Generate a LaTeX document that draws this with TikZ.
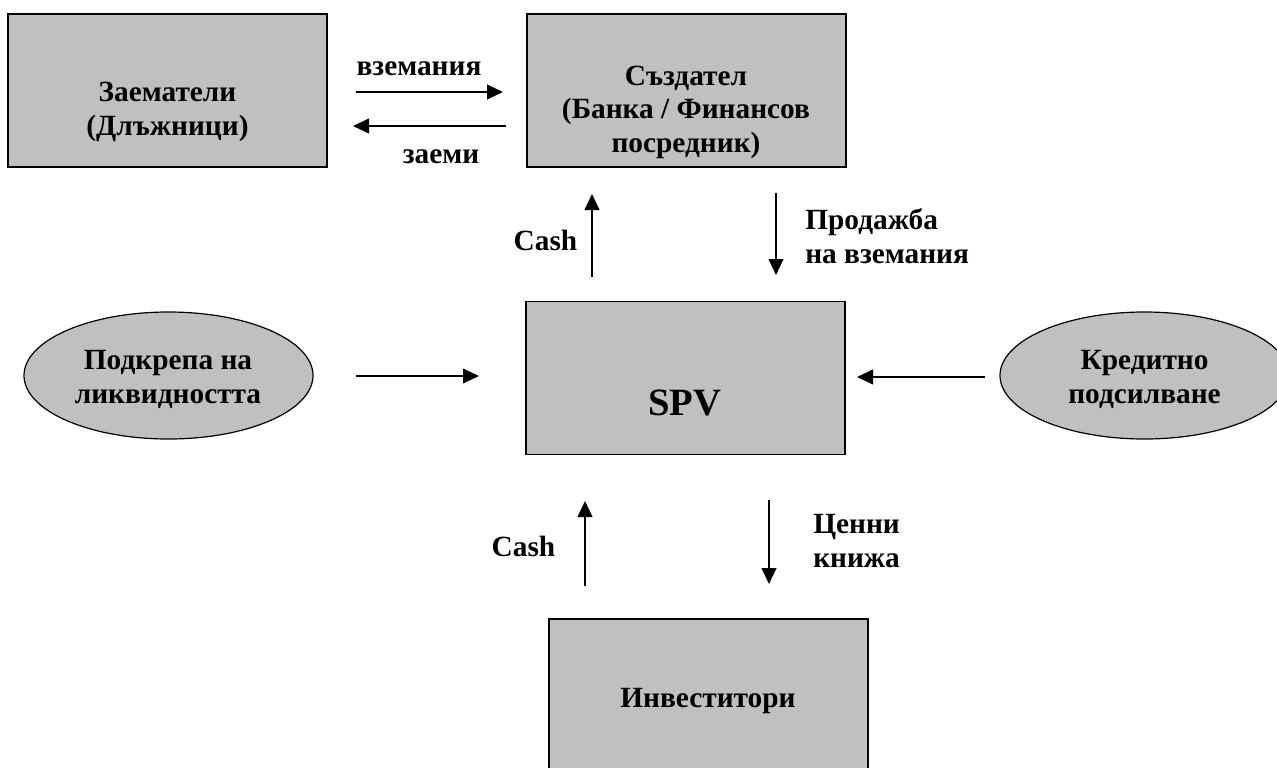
\documentclass[tikz,border=0pt]{standalone}
\usepackage{fontspec}
\setmainfont{Liberation Serif}
\usetikzlibrary{shapes.geometric,arrows.meta}
\definecolor{boxgray}{RGB}{192,192,192}
\tikzset{
  box/.style={draw, line width=1.2pt, fill=boxgray, minimum width=239pt, minimum height=114.75pt, inner sep=0pt},
  oval/.style={ellipse, draw, line width=0.9pt, fill=boxgray, minimum width=216.75pt, minimum height=95.25pt, inner sep=0pt},
  txt/.style={font=\fontsize{22}{25.1}\selectfont\bfseries, align=center, inner sep=0pt, anchor=base},
  flow/.style={line width=1.5pt, -{Triangle[length=12pt,width=11pt]}}
}
\begin{document}
\begin{tikzpicture}[x=0.75pt, y=-0.75pt]
  \path[use as bounding box, fill=white] (0,0) rectangle (1277,767);
  \node[box] (zaem) at (167.5,90.5) {};
  \node[box] (sazd) at (686.5,90.5) {};
  \node[box] (spv) at (685.5,378) {};
  \node[box, minimum height=117pt] (inv) at (708.5,697) {};
  \node[oval] (liq) at (168.5,375.5) {};
  \node[oval] (cred) at (1144.5,375.5) {};

  \node[txt] (zaemT) at (167.5,135) {Заематели\\(Длъжници)};
  \node[txt] (sazdT) at (686,152) {Създател\\(Банка / Финансов\\посредник)};
  \node[txt, font=\fontsize{29}{34}\selectfont\bfseries] (spvT) at (685,415) {SPV};
  \node[txt] (invT) at (708,707) {Инвеститори};
  \node[txt] (liqT) at (168,403) {Подкрепа на\\ликвидността};
  \node[txt] (credT) at (1144.5,403) {Кредитно\\подсилване};

  \node[txt] (vzT) at (419,75) {вземания};
  \node[txt] (zmT) at (441,163) {заеми};
  \node[txt] (cashA) at (545.5,250) {Cash};
  \node[txt, align=left, anchor=base west] (prodT) at (805,263) {Продажба\\на вземания};
  \node[txt] (cashB) at (523.5,556) {Cash};
  \node[txt, align=left, anchor=base west] (cenT) at (813,567) {Ценни\\книжа};

  \coordinate (vz1) at (356,92);  \coordinate (vz2) at (503,92);
  \coordinate (zm1) at (506,126); \coordinate (zm2) at (353,126);
  \coordinate (ca1) at (592,277); \coordinate (ca2) at (592,194);
  \coordinate (pr1) at (776,193); \coordinate (pr2) at (776,275);
  \coordinate (lq1) at (356,376); \coordinate (lq2) at (479,376);
  \coordinate (cr1) at (985,377); \coordinate (cr2) at (857,377);
  \coordinate (cb1) at (585,586); \coordinate (cb2) at (585,501);
  \coordinate (cn1) at (769,500); \coordinate (cn2) at (769,584);
  \begin{scope}[flow]
    \draw (vz1) to (vz2);
    \draw (zm1) to (zm2);
    \draw (ca1) to (ca2);
    \draw (pr1) to (pr2);
    \draw (lq1) to (lq2);
    \draw (cr1) to (cr2);
    \draw (cb1) to (cb2);
    \draw (cn1) to (cn2);
  \end{scope}
\end{tikzpicture}
\end{document}
